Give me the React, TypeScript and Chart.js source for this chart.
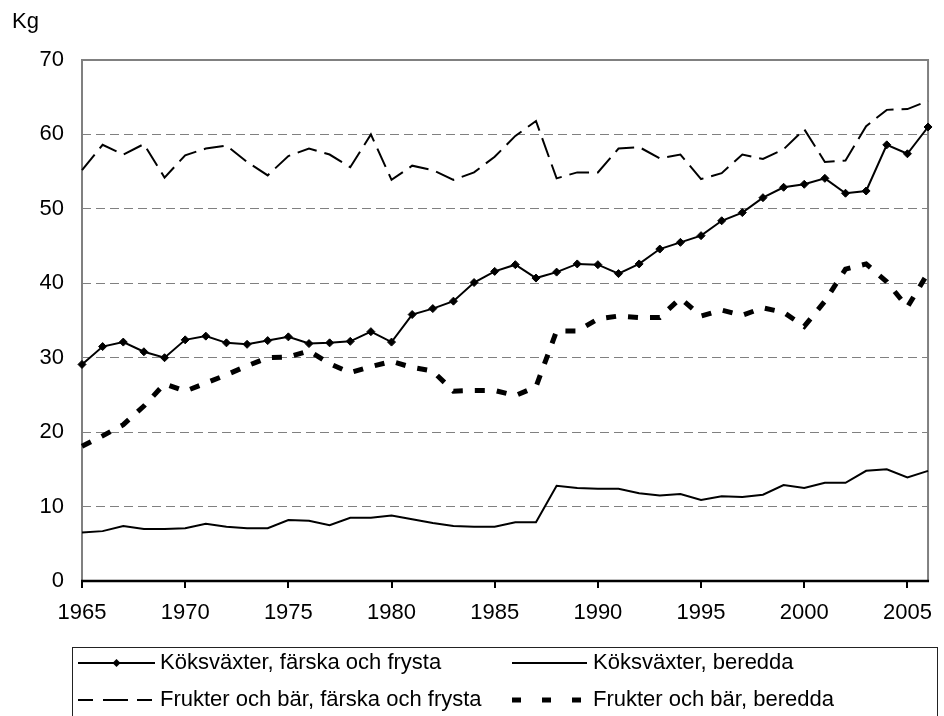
import React, { useEffect, useRef } from "react";
import { Chart, registerables } from "chart.js";

Chart.register(...registerables);

const years = [
  1965, 1966, 1967, 1968, 1969, 1970, 1971, 1972, 1973, 1974, 1975, 1976, 1977, 1978,
  1979, 1980, 1981, 1982, 1983, 1984, 1985, 1986, 1987, 1988, 1989, 1990, 1991, 1992,
  1993, 1994, 1995, 1996, 1997, 1998, 1999, 2000, 2001, 2002, 2003, 2004, 2005, 2006,
];

const kokFarska = [
  29.1, 31.5, 32.1, 30.8, 30.0, 32.4, 32.9, 32.0, 31.8, 32.3, 32.8, 31.9, 32.0, 32.2, 33.5,
  32.1, 35.8, 36.6, 37.6, 40.1, 41.6, 42.5, 40.7, 41.5, 42.6, 42.5, 41.3, 42.6,
  44.6, 45.5, 46.4, 48.4, 49.5, 51.5, 52.9, 53.3, 54.1, 52.1, 52.4, 58.6, 57.4, 61.0,
];

const kokBeredda = [
  6.5, 6.7, 7.4, 7.0, 7.0, 7.1, 7.7, 7.3, 7.1, 7.1, 8.2, 8.1, 7.5, 8.5, 8.5,
  8.8, 8.3, 7.8, 7.4, 7.3, 7.3, 7.9, 7.9, 12.8, 12.5, 12.4, 12.4, 11.8,
  11.5, 11.7, 10.9, 11.4, 11.3, 11.6, 12.9, 12.5, 13.2, 13.2, 14.8, 15.0, 13.9, 14.8,
];

const fruktFarska = [
  55.2, 58.6, 57.3, 58.7, 54.2, 57.2, 58.1, 58.5, 56.3, 54.5, 57.1, 58.1, 57.3, 55.6, 60.0,
  53.9, 55.8, 55.2, 53.9, 54.9, 57.0, 59.8, 61.8, 54.1, 54.9, 54.9, 58.1, 58.3,
  56.8, 57.3, 54.0, 54.8, 57.3, 56.7, 58.0, 60.7, 56.3, 56.5, 61.1, 63.3, 63.4, 64.5,
];

const fruktBeredda = [
  18.1, 19.5, 21.0, 23.5, 26.5, 25.5, 26.6, 27.7, 28.9, 30.0, 30.1, 30.9, 29.2, 28.0, 28.8,
  29.5, 28.7, 28.2, 25.5, 25.6, 25.6, 24.9, 26.1, 33.6, 33.6, 35.2, 35.6, 35.4,
  35.4, 38.0, 35.6, 36.4, 35.7, 36.7, 36.1, 34.2, 37.6, 41.9, 42.6, 40.2, 36.8, 41.4,
];

const xTickYears = [1965, 1970, 1975, 1980, 1985, 1990, 1995, 2000, 2005];
const yTickValues = [0, 10, 20, 30, 40, 50, 60, 70];

const seriesLabels = [
  "Köksväxter, färska och frysta",
  "Köksväxter, beredda",
  "Frukter och bär, färska och frysta",
  "Frukter och bär, beredda",
];

const unitLabel = "Kg";

const FONT = '"Liberation Sans", Arial, Helvetica, sans-serif';
const FONT_SIZE = 22;

export default function App() {
  const ref = useRef<HTMLCanvasElement>(null);

  useEffect(() => {
    const canvas = ref.current;
    if (!canvas) return;

    const seriesValues = [kokFarska, kokBeredda, fruktFarska, fruktBeredda];
    const seriesStyles: any[] = [
      { borderWidth: 2, borderDash: [], pointStyle: "rectRot", pointRadius: 4 },
      { borderWidth: 2, borderDash: [], pointStyle: "circle", pointRadius: 0 },
      { borderWidth: 2, borderDash: [20, 8], pointStyle: "circle", pointRadius: 0 },
      { borderWidth: 5, borderDash: [10, 12], pointStyle: "circle", pointRadius: 0 },
    ];
    const legendDash = [[], [], [15, 10, 25, 9], [9, 21]];

    const framePlugin = {
      id: "frame",
      beforeDatasetsDraw(chart: any) {
        const { ctx, chartArea } = chart;
        const { left, right, top, bottom } = chartArea;
        ctx.save();
        ctx.setLineDash([]);
        ctx.strokeStyle = "#808080";
        ctx.lineWidth = 2;
        ctx.beginPath();
        ctx.moveTo(left, bottom);
        ctx.lineTo(left, top);
        ctx.lineTo(right, top);
        ctx.lineTo(right, bottom);
        ctx.stroke();
        ctx.strokeStyle = "#000";
        ctx.lineWidth = 2.5;
        ctx.beginPath();
        ctx.moveTo(left - 1, bottom);
        ctx.lineTo(right + 1, bottom);
        ctx.stroke();
        ctx.restore();
      },
    };

    const legendPlugin = {
      id: "boxLegend",
      afterDraw(chart: any) {
        const { ctx } = chart;
        ctx.save();
        // unit label
        ctx.fillStyle = "#000";
        ctx.font = `${FONT_SIZE}px ${FONT}`;
        ctx.textBaseline = "middle";
        ctx.textAlign = "left";
        ctx.fillText(unitLabel, 12, 22);

        // legend box
        ctx.setLineDash([]);
        ctx.strokeStyle = "#222";
        ctx.lineWidth = 1;
        ctx.strokeRect(72.5, 647.5, 865, 100);

        const items = [
          { x: 78, w: 77, y: 663, tx: 160 },
          { x: 512, w: 75, y: 663, tx: 593 },
          { x: 78, w: 74, y: 700, tx: 160 },
          { x: 512, w: 70, y: 700, tx: 593 },
        ];
        items.forEach((it, i) => {
          const ds = chart.data.datasets[i];
          ctx.strokeStyle = "#000";
          ctx.lineWidth = ds.borderWidth;
          ctx.lineCap = "butt";
          ctx.setLineDash(legendDash[i]);
          ctx.beginPath();
          ctx.moveTo(it.x, it.y);
          ctx.lineTo(it.x + it.w, it.y);
          ctx.stroke();
          ctx.setLineDash([]);
          if (ds.pointRadius > 0) {
            const cx = it.x + it.w / 2;
            const r = ds.pointRadius;
            ctx.fillStyle = "#000";
            ctx.beginPath();
            ctx.moveTo(cx, it.y - r);
            ctx.lineTo(cx + r, it.y);
            ctx.lineTo(cx, it.y + r);
            ctx.lineTo(cx - r, it.y);
            ctx.closePath();
            ctx.fill();
          }
          ctx.fillStyle = "#000";
          ctx.font = `${FONT_SIZE}px ${FONT}`;
          ctx.textBaseline = "middle";
          ctx.textAlign = "left";
          ctx.fillText(ds.label, it.tx, it.y);
        });
        ctx.restore();
      },
    };

    const chart = new Chart(canvas, {
      type: "line",
      data: {
        datasets: seriesValues.map((vals, i) => ({
          label: seriesLabels[i],
          data: years.map((yr, j) => ({ x: yr, y: vals[j] })),
          borderColor: "#000",
          backgroundColor: "#000",
          pointBackgroundColor: "#000",
          pointBorderColor: "#000",
          pointBorderWidth: 1,
          borderCapStyle: "butt",
          borderJoinStyle: "miter",
          tension: 0,
          fill: false,
          clip: false,
          ...seriesStyles[i],
        })),
      },
      options: {
        animation: false,
        responsive: false,
        maintainAspectRatio: false,
        devicePixelRatio: 1,
        layout: { padding: { left: 0, right: 5, top: 60, bottom: 85 } },
        plugins: {
          legend: { display: false },
          tooltip: { enabled: false },
        },
        scales: {
          x: {
            type: "linear",
            min: 1965,
            max: 2006,
            afterFit: (scale: any) => {
              scale.height = 50;
            },
            afterBuildTicks: (scale: any) => {
              scale.ticks = xTickYears.map((v) => ({ value: v }));
            },
            border: { display: false },
            grid: {
              display: true,
              drawOnChartArea: false,
              drawTicks: true,
              tickLength: 7,
              color: "#000",
              lineWidth: 2,
            },
            ticks: {
              color: "#000",
              font: { family: FONT, size: FONT_SIZE },
              padding: 12,
              maxRotation: 0,
              autoSkip: false,
              callback: (v: any) => String(v),
            },
          },
          y: {
            type: "linear",
            min: 0,
            max: 70,
            afterFit: (scale: any) => {
              scale.width = 82;
            },
            afterBuildTicks: (scale: any) => {
              scale.ticks = yTickValues.map((v) => ({ value: v }));
            },
            border: { display: false, dash: [9, 5] },
            grid: {
              drawTicks: false,
              lineWidth: 1,
              color: (c: any) =>
                c.tick && (c.tick.value === 0 || c.tick.value === 70)
                  ? "rgba(0,0,0,0)"
                  : "#808080",
            },
            ticks: {
              color: "#000",
              font: { family: FONT, size: FONT_SIZE },
              padding: 18,
              autoSkip: false,
            },
          },
        },
      },
      plugins: [framePlugin, legendPlugin],
    } as any);

    return () => chart.destroy();
  }, []);

  return (
    <canvas
      ref={ref}
      width={944}
      height={716}
      style={{ position: "absolute", left: 0, top: 0, display: "block" }}
    />
  );
}
